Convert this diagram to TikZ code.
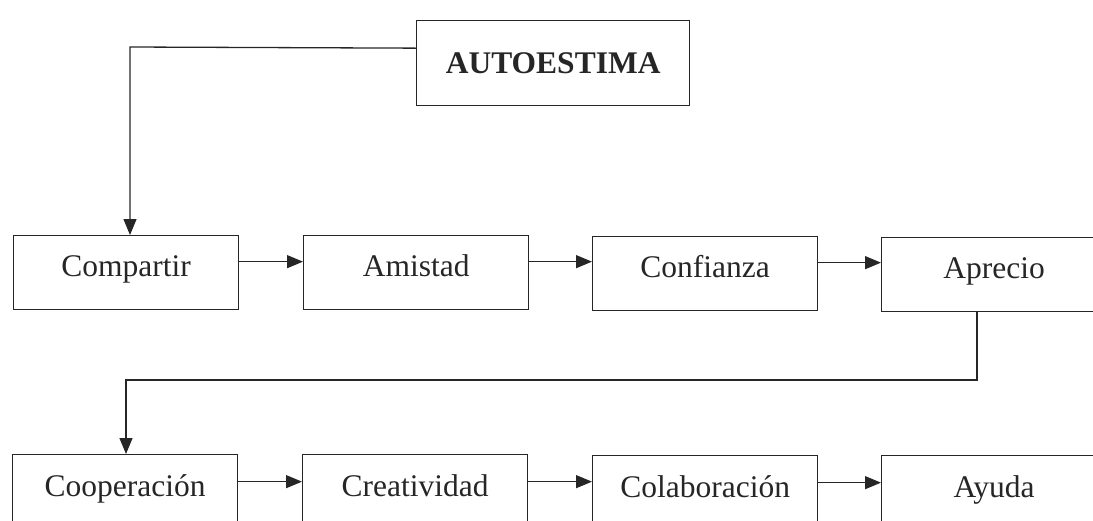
\documentclass[tikz,border=0pt]{standalone}
\usepackage{fontspec}
\setmainfont{Liberation Serif}
\usetikzlibrary{arrows.meta,calc}
\begin{document}
\begin{tikzpicture}[x=1pt,y=-1pt,
  box/.style={draw=black!85,line width=1.3pt,minimum width=225pt,minimum height=74pt,
    inner sep=0pt,anchor=north west,text height=20pt,text depth=12pt,
    font=\fontsize{31.5}{36}\selectfont,text=black!85},
  arr/.style={draw=black!85,line width=1.3pt,-{Triangle[length=16pt,width=13pt]}}]
\useasboundingbox (0,0) rectangle (1093,520);
\clip (0,0) rectangle (1093,520);
\node[box,minimum width=273pt,minimum height=85pt,text height=28pt,text depth=7pt,font=\fontsize{31.5}{36}\selectfont\bfseries] (auto) at (416,20) {AUTOESTIMA};
\node[box] (comp) at (13,235) {Compartir};
\node[box] (amis) at (303,235) {Amistad};
\node[box] (conf) at (592,236) {Confianza};
\node[box] (apre) at (881,237) {Aprecio};
\node[box,minimum height=76pt] (coop) at (12,454) {Cooperación};
\node[box,minimum height=76pt] (crea) at (302,454) {Creatividad};
\node[box,minimum height=76pt] (cola) at (592,455) {Colaboración};
\node[box,minimum height=76pt] (ayud) at (881,455) {Ayuda};
\coordinate (c1) at (130,47);
\coordinate (c2) at (977,380);
\draw[arr] ([yshift=15pt]auto.west) -- (c1) -- (c1 |- comp.north);
\draw[arr] ([yshift=11pt]comp.east) -- ([yshift=11pt]comp.east -| amis.west);
\draw[arr] ([yshift=11pt]amis.east) -- ([yshift=11pt]amis.east -| conf.west);
\draw[arr] ([yshift=11pt]conf.east) -- ([yshift=11pt]conf.east -| apre.west);
\draw[arr] (c2 |- apre.south) -- (c2) -- (c2 -| 126,0) -- (126,0 |- coop.north);
\draw[arr] ([yshift=11pt]coop.east) -- ([yshift=11pt]coop.east -| crea.west);
\draw[arr] ([yshift=11pt]crea.east) -- ([yshift=11pt]crea.east -| cola.west);
\draw[arr] ([yshift=11pt]cola.east) -- ([yshift=11pt]cola.east -| ayud.west);
\end{tikzpicture}
\end{document}
